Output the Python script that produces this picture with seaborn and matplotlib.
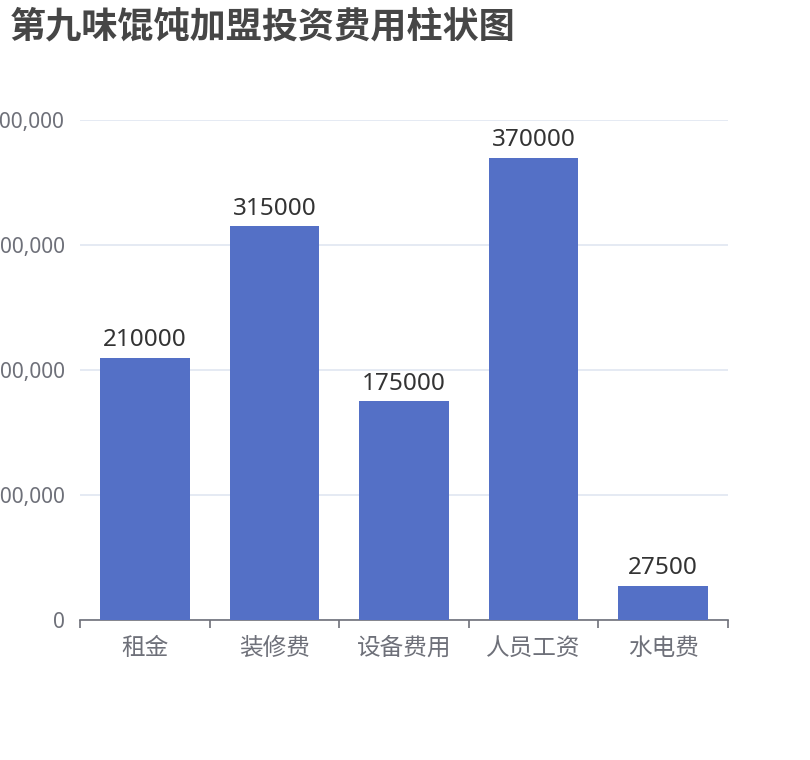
import matplotlib
matplotlib.use("Agg")
import matplotlib.pyplot as plt
import seaborn as sns
import pandas as pd
from matplotlib.ticker import FuncFormatter, FixedLocator

categories = ["租金", "装修费", "设备费用", "人员工资", "水电费"]
costs = [210000, 315000, 175000, 370000, 27500]
y_ticks = [0, 100000, 200000, 300000, 400000]
title = "第九味馄饨加盟投资费用柱状图"

sns.set_theme(style="white")
plt.rcParams["font.family"] = ["Noto Sans", "Noto Sans CJK SC", "DejaVu Sans"]

df = pd.DataFrame({"category": categories, "cost": costs})

fig = plt.figure(figsize=(8.1, 7.6), dpi=100)
ax = fig.add_axes([80 / 810, 140 / 760, 648 / 810, 500 / 760])

sns.barplot(data=df, x="category", y="cost", color="#5470c6", saturation=1,
            width=0.69, linewidth=0, ax=ax, zorder=3)

ax.set_xlim(-0.5, len(categories) - 0.5)
ax.set_ylim(0, 400000)
ax.set_yticks(y_ticks)
ax.yaxis.set_major_formatter(FuncFormatter(lambda v, p: f"{int(v):,}"))
ax.grid(axis="y", color="#e0e6f1", linewidth=1.2, zorder=0)
ax.tick_params(axis="y", left=False, length=0, pad=11, labelsize=15, labelcolor="#6e7079")

# category boundary ticks, labels centred under bars
ax.xaxis.set_major_locator(FixedLocator([i - 0.5 for i in range(len(categories) + 1)]))
ax.xaxis.set_major_formatter(FuncFormatter(lambda v, p: ""))
ax.xaxis.set_minor_locator(FixedLocator(list(range(len(categories)))))
ax.set_xticklabels(categories, minor=True)
ax.tick_params(axis="x", which="major", bottom=True, length=6, width=1.2,
               color="#6e7079", direction="out")
ax.tick_params(axis="x", which="minor", bottom=True, length=0, pad=12,
               labelsize=17, labelcolor="#6e7079")

for s in ["top", "right", "left"]:
    ax.spines[s].set_visible(False)
ax.spines["bottom"].set_color("#6e7079")
ax.spines["bottom"].set_linewidth(1.2)

ax.set_xlabel("")
ax.set_ylabel("")

for i, v in enumerate(costs):
    ax.annotate(str(v), (i, v), xytext=(0, 4), textcoords="offset points",
                ha="center", va="bottom", fontsize=17.5, color="#333333")

fig.text(10 / 810, 1 - 8 / 760, title, ha="left", va="top",
         fontsize=26, fontweight="bold", color="#464646",
         family=["Noto Sans CJK SC", "DejaVu Sans"])

fig.savefig("out.png", dpi=100)
